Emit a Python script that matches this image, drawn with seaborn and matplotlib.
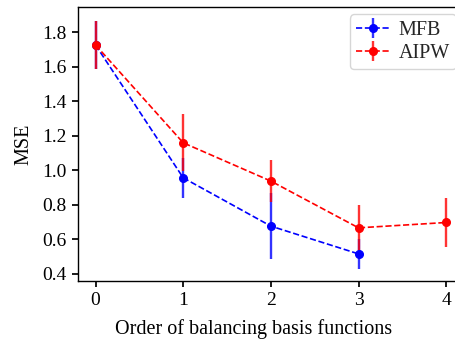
import numpy as np
import pandas as pd
import matplotlib
matplotlib.use("Agg")
import matplotlib.pyplot as plt
import seaborn as sns

orders = [0, 1, 2, 3, 4]
mfb_mse = [1.727, 0.957, 0.677, 0.516]
mfb_err = [0.14, 0.116, 0.19, 0.087]
aipw_mse = [1.727, 1.160, 0.938, 0.667, 0.698]
aipw_err = [0.14, 0.165, 0.12, 0.133, 0.14]

sns.set_theme(style="ticks")
plt.rcParams['font.family'] = ['Liberation Serif', 'DejaVu Serif']

fig = plt.figure(figsize=(4.56, 3.41), dpi=100)
ax = fig.add_axes([0.171, 0.176, 0.846, 0.804])

df_mfb = pd.DataFrame({"order": orders[:4], "mse": mfb_mse, "err": mfb_err})
df_aipw = pd.DataFrame({"order": orders, "mse": aipw_mse, "err": aipw_err})

for df, color, label in [(df_mfb, "blue", "MFB"), (df_aipw, "red", "AIPW")]:
    cont = ax.errorbar(df["order"], df["mse"], yerr=df["err"], fmt="o--",
                       color=color, ecolor=color, elinewidth=1.7, linewidth=1.2,
                       markersize=5.5, label=label, capsize=0)
    for c in cont[2]:
        c.set_alpha(0.8)

ax.set_xlim(-0.2, 4.2)
ax.set_ylim(0.359, 1.948)
ax.set_xticks(orders)
ax.set_yticks([0.4, 0.6, 0.8, 1.0, 1.2, 1.4, 1.6, 1.8])
ax.tick_params(labelsize=14, colors="black", length=4.5)
for s in ax.spines.values():
    s.set_color("black")
    s.set_linewidth(1.0)
ax.set_xlabel("Order of balancing basis functions", fontsize=14.5, color="black")
ax.set_ylabel("MSE", fontsize=14.5, color="black")
ax.xaxis.set_label_coords(0.454, -0.14)
ax.yaxis.set_label_coords(-0.115, 0.5)
ax.legend(loc="upper right", bbox_to_anchor=(0.98, 0.972), fontsize=14.5,
          handlelength=1.65, borderpad=0.3, labelspacing=0.2, handletextpad=0.45,
          borderaxespad=0.0, frameon=True)

fig.savefig("out.png", dpi=100)
